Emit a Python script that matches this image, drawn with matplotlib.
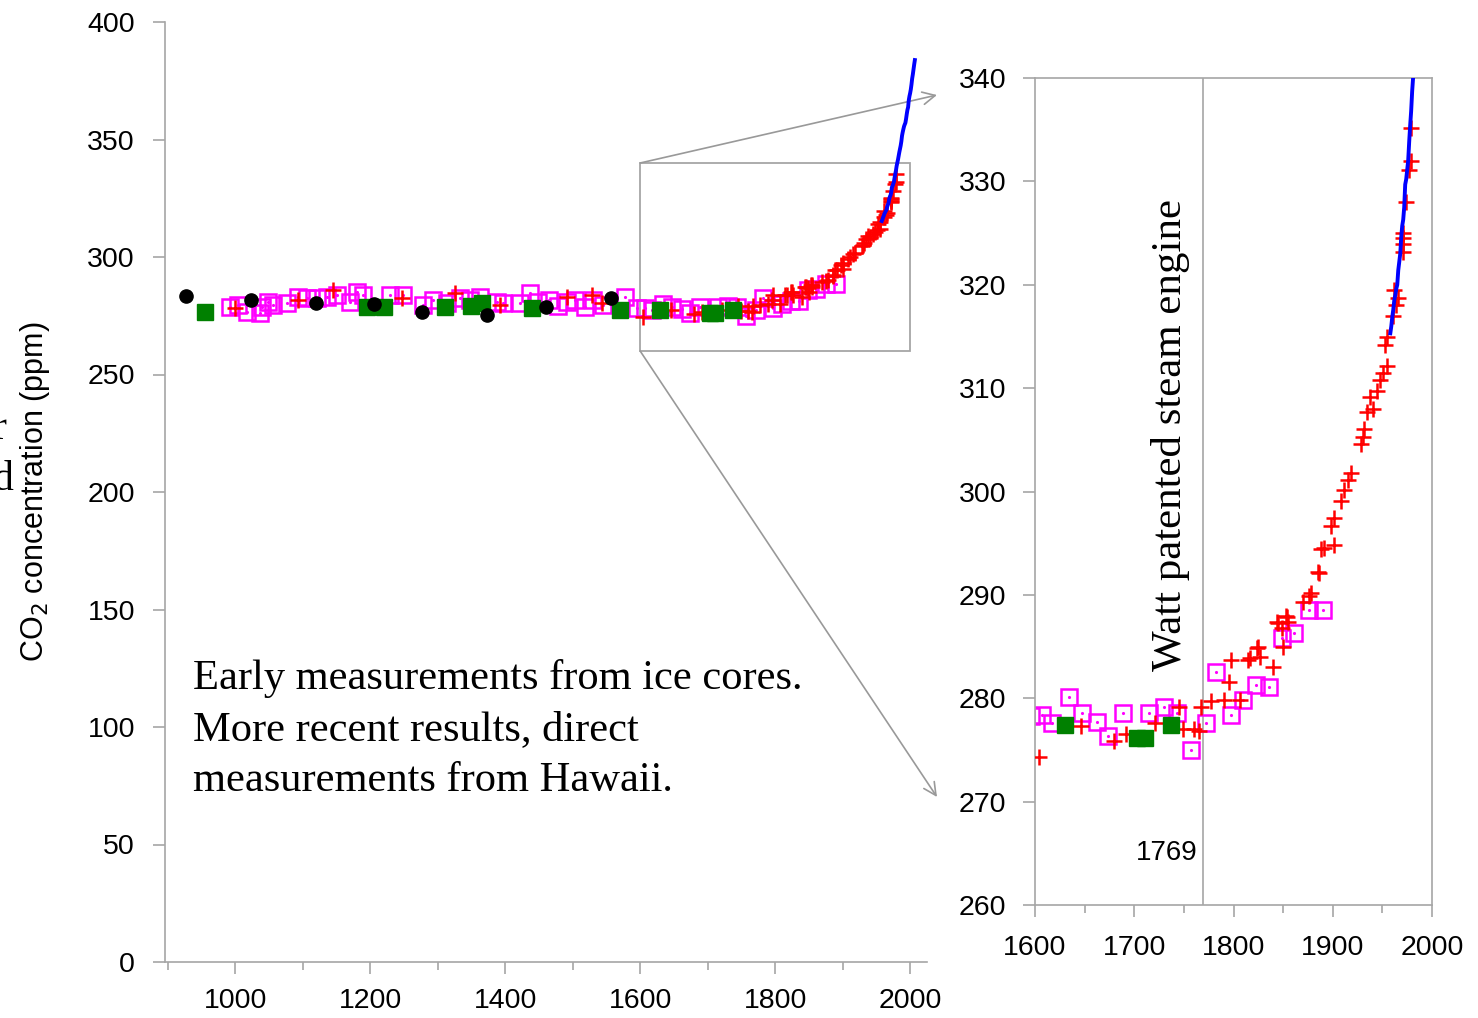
import matplotlib
matplotlib.use("Agg")
import matplotlib.pyplot as plt
from matplotlib.patches import Rectangle
from matplotlib.ticker import MultipleLocator, FixedLocator

plt.rcParams['font.family'] = ['Liberation Sans', 'DejaVu Sans']
serif = ['Liberation Serif', 'DejaVu Serif']

# Law Dome style ice-core data (magenta hollow squares)
sq_year = [993, 1004, 1018, 1037, 1040, 1049, 1056, 1077, 1093, 1107, 1121, 1136, 1151, 1170,
           1181, 1190, 1230, 1249, 1279, 1293, 1314, 1333, 1348, 1363, 1388, 1397, 1422, 1437,
           1449, 1465, 1478, 1492, 1504, 1519, 1530, 1545, 1578, 1596, 1607, 1617, 1634, 1647,
           1662, 1674, 1689, 1715, 1730, 1743, 1757, 1772, 1782, 1797, 1810, 1823, 1836, 1849,
           1861, 1876, 1890]
sq_ppm = [278.7, 279.6, 276.6, 276.2, 278.7, 280.9, 279.6, 280.4, 283.0, 282.6, 282.6, 283.0,
          283.8, 280.9, 285.1, 283.8, 283.8, 283.8, 279.6, 281.7, 280.4, 282.6, 281.7, 283.0,
          280.9, 280.4, 280.4, 284.7, 280.9, 281.5, 279.0, 280.9, 281.7, 278.7, 281.7, 279.6,
          283.0, 278.3, 278.4, 277.6, 280.1, 278.6, 277.7, 276.3, 278.6, 278.6, 279.2, 278.6,
          275.0, 277.6, 282.5, 278.4, 279.8, 281.3, 281.1, 285.8, 286.3, 288.5, 288.5]

# red crosses
cr_year = [1000, 1093, 1145, 1247, 1326, 1393, 1492, 1529, 1544,
           1604, 1646, 1680, 1692, 1721, 1745, 1749, 1760, 1765, 1767, 1777, 1790, 1795, 1797,
           1807, 1815, 1817, 1824, 1825, 1827, 1840, 1844, 1845, 1849, 1850, 1853, 1854, 1855,
           1870, 1876, 1878, 1885, 1886, 1888, 1891, 1898, 1901, 1901, 1908, 1911, 1915, 1918,
           1928, 1930, 1931, 1935, 1938, 1941, 1945, 1948, 1951, 1953, 1955, 1955, 1961, 1962,
           1964, 1966, 1971, 1971, 1971, 1971, 1974, 1977, 1979, 1979]
cr_ppm = [278.3, 281.5, 286.0, 282.6, 284.7, 279.6, 283.0, 283.8, 280.4,
          274.3, 277.3, 275.9, 276.5, 277.6, 279.2, 277.0, 277.0, 276.8, 279.2, 279.7, 279.8,
          281.6, 283.7, 279.8, 283.7, 283.9, 284.9, 285.0, 284.0, 283.0, 287.4, 287.3, 286.8,
          285.0, 288.0, 287.9, 287.4, 289.3, 289.9, 290.2, 292.2, 292.1, 294.4, 294.5, 296.7,
          294.8, 297.4, 299.1, 300.1, 301.1, 301.8, 304.6, 305.3, 306.0, 307.7, 309.1, 308.0,
          309.7, 310.8, 311.5, 314.2, 312.1, 314.9, 317.0, 319.5, 318.0, 318.7, 323.2, 323.9,
          324.5, 325.0, 328.0, 331.1, 332.0, 335.2]

# green filled squares
gr_year = [955, 1196, 1221, 1311, 1350, 1366, 1440, 1570, 1630, 1703, 1711, 1737]
gr_ppm = [276.6, 278.7, 278.9, 278.7, 279.2, 280.4, 278.3, 277.4, 277.4, 276.2, 276.2, 277.4]

# black dots
bk_year = [927, 1024, 1119, 1206, 1277, 1373, 1461, 1557]
bk_ppm = [283.4, 281.7, 280.4, 280.2, 276.8, 275.5, 278.9, 282.6]

# Mauna Loa direct measurements (blue line)
ml_year = list(range(1958, 2008))
ml_ppm = [315.3, 316.0, 316.9, 317.6, 318.5, 319.0, 319.6, 320.0, 321.4, 322.2, 323.0, 324.6,
          325.7, 326.3, 327.5, 329.7, 330.2, 331.1, 332.0, 333.8, 335.4, 336.8, 338.7, 340.1,
          341.4, 343.0, 344.6, 346.0, 347.4, 349.2, 351.6, 353.1, 354.4, 355.6, 356.4, 357.1,
          358.8, 360.8, 362.6, 363.7, 366.7, 368.4, 369.7, 371.3, 373.4, 375.9, 377.7, 379.8,
          381.9, 383.8]

note_lines = ['Early measurements from ice cores.',
              'More recent results, direct',
              'measurements from Hawaii.']

W, H = 1478, 1018
fig = plt.figure(figsize=(W / 100, H / 100), dpi=100)
gray = '#a6a6a6'


def draw_data(ax):
    ax.plot(sq_year, sq_ppm, 's', ms=11, mfc='none', mec='#ff00ff', mew=1.8, zorder=2)
    ax.plot(sq_year, sq_ppm, '.', ms=2.5, color='#ff00ff', zorder=2)
    ax.plot(cr_year, cr_ppm, '+', ms=12, mew=1.8, color='red', zorder=3)
    ax.plot(gr_year, gr_ppm, 's', ms=11.5, color='#008000', zorder=4)
    ax.plot(bk_year, bk_ppm, 'o', ms=9.5, color='black', zorder=5)
    ax.plot(ml_year, ml_ppm, '-', lw=2.8, color='#0000ff', zorder=6)


def style_axes(ax, fs):
    ax.tick_params(which='both', direction='out', color=gray, width=1.2,
                   labelcolor='black', labelsize=fs)
    ax.tick_params(which='major', length=8.6)
    ax.tick_params(which='minor', length=6)


# main axes
ax = fig.add_axes([165 / W, 1 - 962 / H, 762 / W, 940 / H])
draw_data(ax)
ax.set_xlim(896, 2025)
ax.set_ylim(0, 400)
ax.xaxis.set_major_locator(FixedLocator([1000, 1200, 1400, 1600, 1800, 2000]))
ax.xaxis.set_minor_locator(FixedLocator([900, 1100, 1300, 1500, 1700, 1900]))
ax.yaxis.set_major_locator(MultipleLocator(50))
for s in ['top', 'right']:
    ax.spines[s].set_visible(False)
for s in ['left', 'bottom']:
    ax.spines[s].set_color(gray)
    ax.spines[s].set_linewidth(1.2)
style_axes(ax, 20.5)
ax.tick_params(axis='y', pad=13)
ax.tick_params(axis='x', pad=10)
ax.add_patch(Rectangle((1600, 260), 400, 80, fill=False, ec=gray, lw=1.3, zorder=1))

# inset zoom axes
ax2 = fig.add_axes([1035 / W, 1 - 905 / H, 397 / W, 827 / H])
draw_data(ax2)
ax2.set_xlim(1600, 2000)
ax2.set_ylim(260, 340)
ax2.xaxis.set_major_locator(MultipleLocator(100))
ax2.xaxis.set_minor_locator(FixedLocator([1650, 1750, 1850, 1950]))
ax2.yaxis.set_major_locator(MultipleLocator(10))
for s in ax2.spines.values():
    s.set_color(gray)
    s.set_linewidth(1.2)
style_axes(ax2, 20.5)
ax2.tick_params(axis='y', pad=12)
ax2.tick_params(axis='x', pad=13)
ax2.axvline(1769, color=gray, lw=1.2, zorder=1)
ax2.text(1764, 265.0, '1769', ha='right', va='center', fontsize=20)
ax2.text(1737, 305.5, 'Watt patented steam engine', rotation=90, ha='center', va='center',
         fontsize=31, family=serif)

# zoom arrows
for start, end in [((1600, 340), (937, 95)), ((1600, 260), (937, 797))]:
    ax.annotate('', xy=(end[0] / W, 1 - end[1] / H), xycoords='figure fraction',
                xytext=start, textcoords='data', annotation_clip=False,
                arrowprops=dict(arrowstyle='->,head_length=0.9,head_width=0.45',
                                color='#999999', lw=1.2, shrinkA=0, shrinkB=0))

fig.text(35 / W, 1 - 492 / H, 'CO$_2$ concentration (ppm)', rotation=90,
         ha='center', va='center', fontsize=22)
for i, line in enumerate(note_lines):
    fig.text(193 / W, 1 - (689 + 51 * i) / H, line, ha='left', va='baseline',
             fontsize=30.6, family=serif)

# text cut off at the left edge (as in the source slide)
fig.text(6 / W, 1 - 439 / H, 'r', ha='right', va='baseline', fontsize=30, family=serif)
fig.text(13 / W, 1 - 490 / H, 'd', ha='right', va='baseline', fontsize=30, family=serif)

fig.savefig('out.png', dpi=100)
